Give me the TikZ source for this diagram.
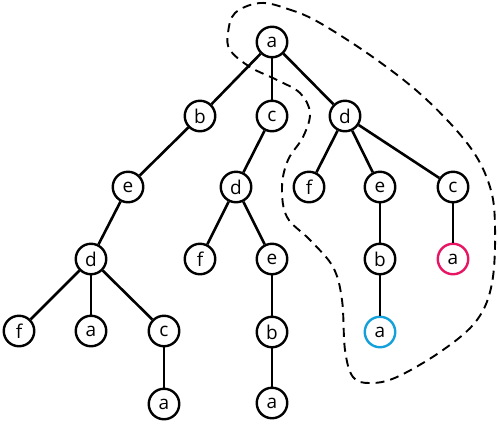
\documentclass[tikz,border=0pt]{standalone}
\usepackage{fontspec}
\setmainfont{Open Sans}
\definecolor{hlpink}{RGB}{232,20,100}
\definecolor{hlblue}{RGB}{20,160,218}
\begin{document}
\begin{tikzpicture}[x=1pt,y=-1pt,
  tn/.style={circle,draw,line width=2.4pt,minimum size=30.5pt,inner sep=0pt,font=\fontsize{19}{19}\selectfont,fill=white},
  ed/.style={line width=2.6pt},
  hull/.style={line width=1.9pt,dash pattern=on 9pt off 6pt}]
\useasboundingbox (0,0) rectangle (498,424);
\node[tn] (r) at (272,42) {a};
\node[tn] (b1) at (200,116) {b};
\node[tn] (c1) at (272,116) {c};
\node[tn] (d1) at (345,116) {d};
\node[tn] (e1) at (128,187) {e};
\node[tn] (d2) at (236,187) {d};
\node[tn] (f1) at (309,187) {f};
\node[tn] (e2) at (380,187) {e};
\node[tn] (c2) at (453,187) {c};
\node[tn] (d3) at (91,259) {d};
\node[tn] (f2) at (200,259) {f};
\node[tn] (e3) at (272,259) {e};
\node[tn] (b2) at (380,259) {b};
\node[tn,draw=hlpink] (a1) at (453,259) {a};
\node[tn] (f3) at (19,331) {f};
\node[tn] (a2) at (91,331) {a};
\node[tn] (c3) at (164,331) {c};
\node[tn] (b3) at (272,332) {b};
\node[tn,draw=hlblue] (a3) at (380,332) {a};
\node[tn] (a4) at (164,404) {a};
\node[tn] (a5) at (272,403) {a};
\foreach \u/\v in {r/b1,r/c1,r/d1,b1/e1,c1/d2,d1/f1,d1/e2,d1/c2,e1/d3,d2/f2,d2/e3,e2/b2,c2/a1,d3/f3,d3/a2,d3/c3,e3/b3,b2/a3,c3/a4,b3/a5}
  \draw[ed] (\u) -- (\v);
\draw[hull] plot[smooth cycle,tension=0.6] coordinates {
 (260,3) (288,9) (320,23) (377,60) (427,100) (470,147) (490,187) (495,227)
 (492,283) (477,320) (443,350) (397,377) (370,383) (353,377) (345,350)
 (342,300) (333,267) (310,240) (287,217) (282,187) (288,160) (303,137)
 (310,113) (300,93) (277,80) (250,67) (230,50) (228,33) (235,13)};
\end{tikzpicture}
\end{document}
